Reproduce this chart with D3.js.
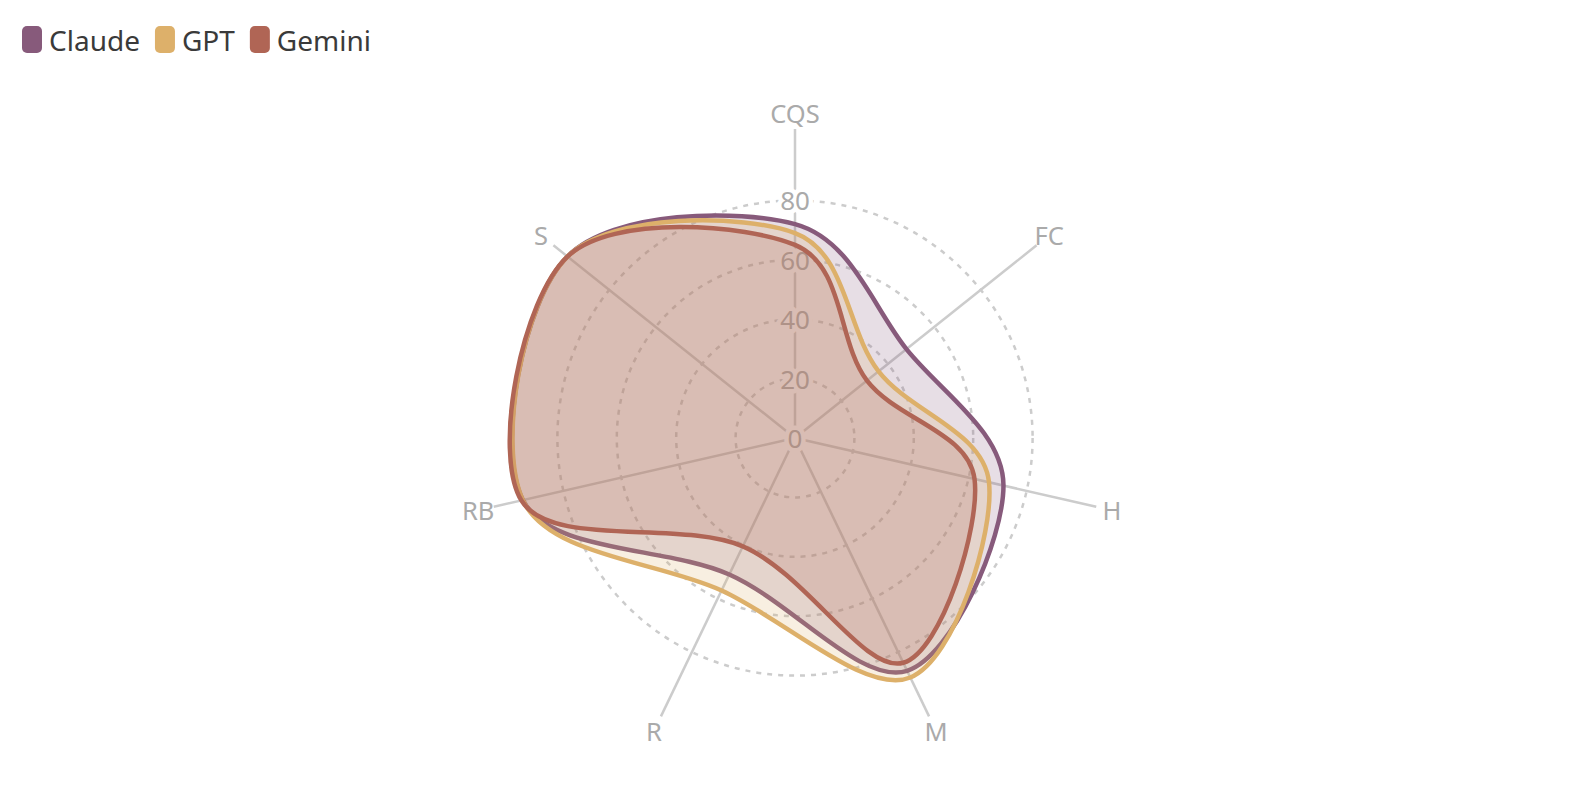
<!DOCTYPE html>
<html>
<head>
<meta charset="utf-8">
<script src="https://cdn.jsdelivr.net/npm/d3@7"></script>
<style>
  html, body { margin: 0; padding: 0; background: #fff; }
  svg { display: block; font-family: "Noto Sans", "Open Sans", sans-serif; }
</style>
</head>
<body>
<svg id="chart" width="1588" height="808"></svg>
<script>
const axes = ["CQS", "FC", "H", "M", "R", "RB", "S"];
const seriesNames = ["Claude", "GPT", "Gemini"];
const claude = [72, 48, 72, 87, 51, 94, 98];
const gpt    = [69, 36, 67, 89.5, 57, 94, 98];
const gemini = [65, 31, 62, 84, 40.5, 94.5, 98];
const ringTicks = [0, 20, 40, 60, 80];
const colors = ["#875a7b", "#ddb06a", "#b06555"];

const seriesValues = [claude, gpt, gemini];

const svg = d3.select("#chart");
const cx = 795, cy = 438;
const r = d3.scaleLinear().domain([0, 100]).range([0, 297]);
const step = 2 * Math.PI / axes.length;
const axisLen = 309, labelDist = 325;

const g = svg.append("g").attr("transform", `translate(${cx},${cy})`);

// rings
g.selectAll("circle.ring").data(ringTicks.filter(d => d > 0)).join("circle")
  .attr("class", "ring")
  .attr("r", d => r(d))
  .attr("fill", "none")
  .attr("stroke", "#cccccc")
  .attr("stroke-width", 2.5)
  .attr("stroke-dasharray", "5,6");

// axis lines
g.selectAll("line.axis").data(axes).join("line")
  .attr("class", "axis")
  .attr("x1", 0).attr("y1", 0)
  .attr("x2", (d, i) => axisLen * Math.sin(i * step))
  .attr("y2", (d, i) => -axisLen * Math.cos(i * step))
  .attr("stroke", "#cccccc")
  .attr("stroke-width", 2.5);

// ring labels
g.selectAll("text.tick").data(ringTicks).join("text")
  .attr("class", "tick")
  .attr("x", 0)
  .attr("y", d => -r(d))
  .attr("text-anchor", "middle")
  .attr("dominant-baseline", "central")
  .attr("font-size", 26)
  .attr("fill", "#aaaaaa")
  .attr("stroke", "#ffffff")
  .attr("stroke-width", 9)
  .attr("stroke-linejoin", "round")
  .attr("paint-order", "stroke")
  .text(d => d);

// axis labels
g.selectAll("text.axlabel").data(axes).join("text")
  .attr("class", "axlabel")
  .attr("x", (d, i) => labelDist * Math.sin(i * step))
  .attr("y", (d, i) => -labelDist * Math.cos(i * step))
  .attr("text-anchor", "middle")
  .attr("dominant-baseline", "central")
  .attr("font-size", 25.5)
  .attr("fill", "#aaaaaa")
  .text(d => d);

// series
const line = d3.lineRadial()
  .angle((d, i) => i * step)
  .radius(d => r(d))
  .curve(d3.curveCardinalClosed.tension(0));

seriesValues.forEach((vals, k) => {
  g.append("path")
    .attr("d", line(vals))
    .attr("fill", colors[k])
    .attr("fill-opacity", 0.2)
    .attr("stroke", colors[k])
    .attr("stroke-width", 4.5)
    .attr("stroke-linejoin", "round");
});

// legend
const legend = svg.append("g").attr("transform", "translate(22,0)");
let lx = 0;
seriesNames.forEach((name, k) => {
  const item = legend.append("g").attr("transform", `translate(${lx},0)`);
  item.append("rect")
    .attr("x", 0).attr("y", 26).attr("width", 20).attr("height", 27)
    .attr("rx", 5).attr("ry", 5)
    .attr("fill", colors[k]);
  const t = item.append("text")
    .attr("x", 27).attr("y", 51)
    .attr("font-size", 28)
    .attr("fill", "#3a3a3a")
    .text(name);
  lx += 27 + t.node().getComputedTextLength() + 15;
});
</script>
</body>
</html>
